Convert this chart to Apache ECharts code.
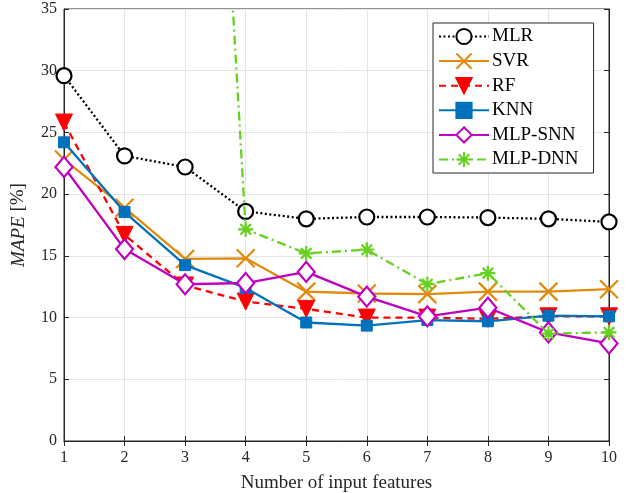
<!DOCTYPE html>
<html>
<head>
<meta charset="utf-8">
<script src="https://cdn.jsdelivr.net/npm/echarts@6/dist/echarts.min.js"></script>
<style>
html, body { margin: 0; padding: 0; background: #fff; }
#chart { width: 636px; height: 493px; }
</style>
</head>
<body>
<div id="chart"></div>
<script>
var features = [1, 2, 3, 4, 5, 6, 7, 8, 9, 10];
var mlr = [29.6, 23.1, 22.2, 18.6, 18.0, 18.15, 18.15, 18.1, 18.0, 17.75];
var svr = [22.8, 18.9, 14.75, 14.8, 12.1, 11.95, 11.9, 12.1, 12.1, 12.3];
var rf = [25.8, 16.7, 12.6, 11.3, 10.7, 10.0, 10.0, 9.9, 10.1, 10.1];
var knn = [24.2, 18.55, 14.25, 12.4, 9.6, 9.35, 9.8, 9.7, 10.15, 10.1];
var mlpSnn = [22.2, 15.55, 12.7, 12.8, 13.7, 11.7, 10.1, 10.8, 8.8, 7.9];
var mlpDnn = [null, null, 102, 17.15, 15.2, 15.5, 12.7, 13.6, 8.7, 8.8];
var yTicks = [0, 5, 10, 15, 20, 25, 30, 35];

var serif = "'Liberation Serif', 'DejaVu Serif', serif";
var axisColor = '#262626';

function pairs(arr) {
	return features.map(function (x, i) { return [x, arr[i]]; });
}

var crossPath = 'path://M0,0L10,10M10,0L0,10';
var starPath = 'path://M5,0L5,10M0,5L10,5M1.5,1.5L8.5,8.5M8.5,1.5L1.5,8.5';
var triDown = 'path://M0,0L10,0L5,9Z';
var diamondPath = 'path://M5,0L10,6L5,12L0,6Z';

function makeSeries(name, arr, color, lineType, symbol, size, filled, zorder) {
	return {
		name: name,
		type: 'line',
		data: pairs(arr),
		z: zorder,
		symbol: symbol,
		symbolSize: size,
		showAllSymbol: true,
		connectNulls: false,
		clip: true,
		lineStyle: { color: color, width: 2.3, type: lineType },
		itemStyle: filled
			? { color: color, borderColor: color, borderWidth: 1 }
			: { color: '#fff', borderColor: color, borderWidth: 2.2 },
		emphasis: { disabled: true }
	};
}

var chart = echarts.init(document.getElementById('chart'));
chart.setOption({
	animation: false,
	backgroundColor: '#fff',
	grid: {
		left: 64, right: 27, top: 9, bottom: 52,
		outerBoundsMode: 'none',
		containLabel: false,
		show: true, borderColor: axisColor, borderWidth: 1, backgroundColor: 'transparent'
	},
	legend: {
		orient: 'vertical',
		left: 433, top: 23,
		padding: [4, 15, 4, 5],
		itemGap: 5.6,
		itemWidth: 50,
		itemHeight: 19,
		backgroundColor: '#fff',
		borderColor: axisColor,
		borderWidth: 1,
		borderRadius: 0,
		textStyle: { fontFamily: serif, fontSize: 19, color: '#000', padding: [0, 0, 0, -2] },
		data: ['MLR', 'SVR', 'RF', 'KNN', 'MLP-SNN', 'MLP-DNN']
	},
	xAxis: [{
		type: 'value', min: 1, max: 10, interval: 1,
		name: 'Number of input features', nameLocation: 'middle', nameGap: 33,
		nameTextStyle: { fontFamily: serif, fontSize: 19, color: '#262626' },
		axisLine: { show: true, lineStyle: { color: axisColor, width: 1 } },
		axisTick: { show: true, inside: true, length: 5, lineStyle: { color: axisColor } },
		axisLabel: { fontFamily: serif, fontSize: 16, color: '#262626', margin: 9 },
		splitLine: { show: true, lineStyle: { color: '#e5e5e5', width: 1 } }
	}, {
		type: 'value', min: 1, max: 10, interval: 1, position: 'top',
		axisLine: { show: true, lineStyle: { color: axisColor } },
		axisTick: { show: true, inside: true, length: 5, lineStyle: { color: axisColor } },
		axisLabel: { show: false },
		splitLine: { show: false }
	}],
	yAxis: [{
		type: 'value', min: 0, max: 35, interval: 5,
		name: '{i|MAPE} [%]', nameLocation: 'middle', nameGap: 36, nameRotate: 90,
		nameTextStyle: {
			fontFamily: serif, fontSize: 19, color: '#262626',
			rich: { i: { fontFamily: serif, fontSize: 19, fontStyle: 'italic', color: '#262626' } }
		},
		axisLine: { show: true, lineStyle: { color: axisColor, width: 1 } },
		axisTick: { show: true, inside: true, length: 5, lineStyle: { color: axisColor } },
		axisLabel: { fontFamily: serif, fontSize: 16, color: '#262626', margin: 7,
			customValues: yTicks },
		splitLine: { show: true, lineStyle: { color: '#e5e5e5', width: 1 } }
	}, {
		type: 'value', min: 0, max: 35, interval: 5, position: 'right',
		axisLine: { show: true, lineStyle: { color: axisColor } },
		axisTick: { show: true, inside: true, length: 5, lineStyle: { color: axisColor } },
		axisLabel: { show: false },
		splitLine: { show: false }
	}],
	series: [
		makeSeries('MLR', mlr, '#000000', [2, 2.5], 'circle', 15, false, 2),
		makeSeries('SVR', svr, '#E08A0C', 'solid', crossPath, 18, false, 3),
		makeSeries('RF', rf, '#FF0000', [7, 5], triDown, 17, true, 4),
		makeSeries('KNN', knn, '#0072BD', 'solid', 'rect', 11, true, 5),
		makeSeries('MLP-SNN', mlpSnn, '#BF00BF', 'solid', diamondPath, [17, 20], false, 6),
		makeSeries('MLP-DNN', mlpDnn, '#66D11F', [9, 4, 2, 4], starPath, 15, false, 7)
	]
});
</script>
</body>
</html>
